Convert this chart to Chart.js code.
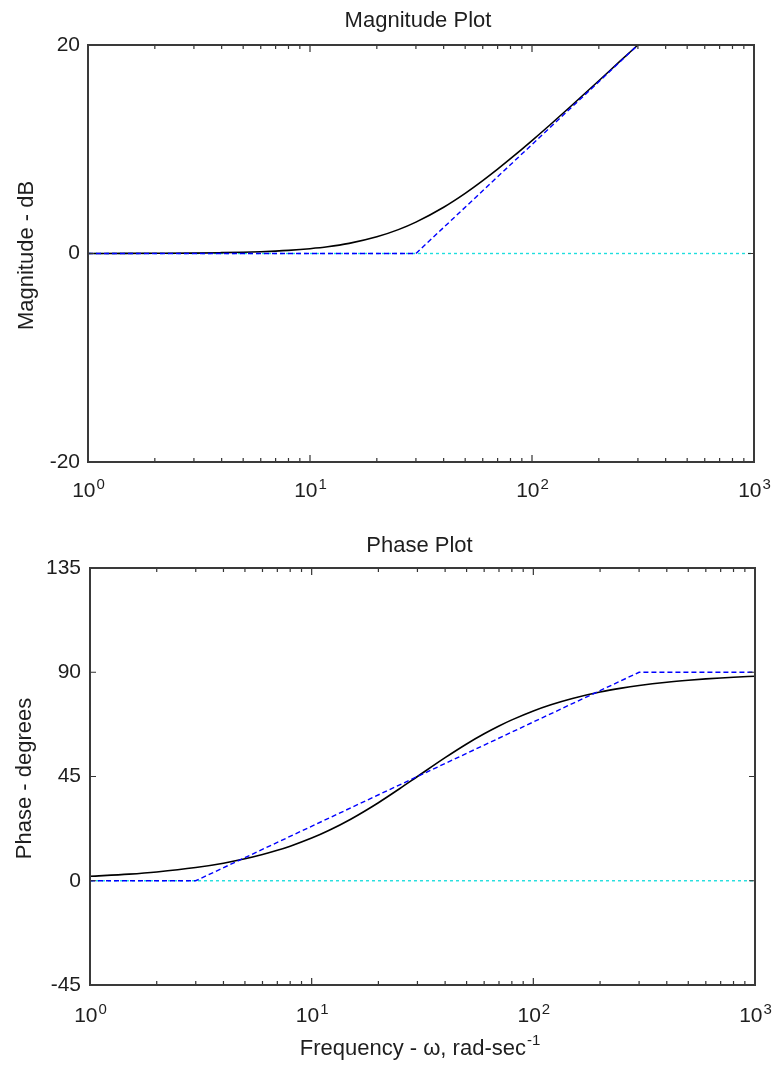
<!DOCTYPE html>
<html><head><meta charset="utf-8">
<script src="https://cdn.jsdelivr.net/npm/chart.js@4.4.1/dist/chart.umd.min.js"></script>
<style>
html,body{margin:0;padding:0;background:#fff;}
#wrap{position:relative;width:772px;height:1068px;background:#fff;}
canvas{position:absolute;left:0;}
</style></head><body>
<div id="wrap">
<canvas id="mag" width="772" height="520" style="top:0px"></canvas>
<canvas id="phase" width="772" height="548" style="top:520px"></canvas>
</div>
<script>
// ---- data ----
const freqMag      = [1, 1.5, 2, 3, 4, 5, 6, 7, 8, 10, 12, 15, 20, 25, 30, 40, 50, 60, 70, 80, 100, 120, 150, 200, 250, 300];
const magnitudeDb  = [0.00, 0.01, 0.02, 0.04, 0.08, 0.12, 0.17, 0.23, 0.30, 0.46, 0.64, 0.97, 1.60, 2.29, 3.01, 4.44, 5.77, 6.99, 8.09, 9.09, 10.83, 12.30, 14.15, 16.57, 18.48, 20.0];
const magAsymFreq  = [1, 30, 300];
const magAsymDb    = [0, 0, 20];

const freqPhase    = [1, 1.5, 2, 3, 4, 5, 6, 7, 8, 10, 12, 15, 20, 25, 30, 40, 50, 60, 70, 80, 100, 120, 150, 200, 250, 300, 400, 500, 600, 700, 800, 1000];
const phaseDeg     = [1.91, 2.86, 3.81, 5.71, 7.59, 9.46, 11.31, 13.13, 14.93, 18.43, 21.80, 26.57, 33.69, 39.81, 45.00, 53.13, 59.04, 63.43, 66.80, 69.44, 73.30, 75.96, 78.69, 81.47, 83.16, 84.29, 85.71, 86.57, 87.14, 87.55, 87.85, 88.28];
const phaseAsymFreq = [1, 3, 300, 1000];
const phaseAsymDeg  = [0, 0, 90, 90];

const zeroFreq = [1, 1000];
const zeroVal  = [0, 0];

const majorTicks = [1, 10, 100, 1000];
const tickBase = '10';
const tickExponents = ['0', '1', '2', '3'];
const minorMultipliers = [2, 3, 4, 5, 6, 7, 8, 9];
const magYTicks = [-20, 0, 20];
const phaseYTicks = [-45, 0, 45, 90, 135];

const magTitle = 'Magnitude Plot';
const magYTitle = 'Magnitude - dB';
const phaseTitle = 'Phase Plot';
const phaseYTitle = 'Phase - degrees';
const xTitleMain = 'Frequency - \u03c9, rad-sec';
const xTitleSup = '-1';

// ---- drawing ----
const FONT = '"Liberation Sans", Arial, Helvetica, sans-serif';
const TEXT = '#1e1e1e';
const pts = (xs, ys) => xs.map((x, i) => ({x, y: ys[i]}));

const bodePlugin = {
  id: 'bode',
  afterDraw(chart, args, o) {
    const {ctx, chartArea: a, scales} = chart;
    const xs = scales.x, ys = scales.y;
    ctx.save();
    // inside tick marks
    ctx.strokeStyle = '#333';
    ctx.lineWidth = 1.2;
    ctx.beginPath();
    majorTicks.forEach((v, d) => {
      const px = xs.getPixelForValue(v);
      ctx.moveTo(px, a.bottom); ctx.lineTo(px, a.bottom - 7);
      ctx.moveTo(px, a.top); ctx.lineTo(px, a.top + 7);
      if (d < majorTicks.length - 1) {
        minorMultipliers.forEach(m => {
          const qx = xs.getPixelForValue(v * m);
          ctx.moveTo(qx, a.bottom); ctx.lineTo(qx, a.bottom - 4);
          ctx.moveTo(qx, a.top); ctx.lineTo(qx, a.top + 4);
        });
      }
    });
    ys.ticks.forEach(t => {
      const py = ys.getPixelForValue(t.value);
      ctx.moveTo(a.left, py); ctx.lineTo(a.left + 6, py);
      ctx.moveTo(a.right, py); ctx.lineTo(a.right - 6, py);
    });
    ctx.stroke();
    // frame
    ctx.strokeStyle = '#3a3a3a';
    ctx.lineWidth = 2;
    ctx.strokeRect(a.left, a.top, a.right - a.left, a.bottom - a.top);
    // x tick labels 10^n
    ctx.fillStyle = TEXT;
    ctx.textAlign = 'left';
    ctx.textBaseline = 'alphabetic';
    majorTicks.forEach((v, i) => {
      const px = xs.getPixelForValue(v);
      ctx.font = '21px ' + FONT;
      const w1 = ctx.measureText(tickBase).width;
      ctx.font = '15px ' + FONT;
      const w2 = ctx.measureText(tickExponents[i]).width;
      const x0 = px - (w1 + w2) / 2;
      ctx.font = '21px ' + FONT;
      ctx.fillText(tickBase, x0, a.bottom + o.labelGap);
      ctx.font = '15px ' + FONT;
      ctx.fillText(tickExponents[i], x0 + w1 + 1, a.bottom + o.labelGap - 8);
    });
    // title
    ctx.font = '22px ' + FONT;
    ctx.textAlign = 'center';
    ctx.fillText(o.title, (a.left + a.right) / 2 - 3, o.titleBaseline);
    // y title
    ctx.save();
    ctx.translate(o.yTitleX, (a.top + a.bottom) / 2 + 2);
    ctx.rotate(-Math.PI / 2);
    ctx.textBaseline = 'middle';
    ctx.fillText(o.yTitle, 0, 0);
    ctx.restore();
    // x title with superscript
    if (o.xTitle) {
      ctx.font = '22px ' + FONT;
      const w1 = ctx.measureText(o.xTitle).width;
      ctx.font = '15px ' + FONT;
      const w2 = ctx.measureText(o.xSup).width;
      const cx = (a.left + a.right) / 2 - 3;
      const x0 = cx - (w1 + w2) / 2;
      ctx.textAlign = 'left';
      ctx.textBaseline = 'alphabetic';
      ctx.font = '22px ' + FONT;
      ctx.fillText(o.xTitle, x0, o.xTitleBaseline);
      ctx.font = '15px ' + FONT;
      ctx.fillText(o.xSup, x0 + w1 + 1, o.xTitleBaseline - 10);
    }
    ctx.restore();
  }
};

function makeChart(id, cfg) {
  return new Chart(document.getElementById(id), {
    type: 'line',
    data: {
      datasets: [
        {data: pts(cfg.asymX, cfg.asymY), borderColor: '#0000ff', borderWidth: 1.4, borderDash: [5, 3], pointRadius: 0, tension: 0, fill: false},
        {data: pts(cfg.curveX, cfg.curveY), borderColor: '#000000', borderWidth: 1.6, pointRadius: 0, cubicInterpolationMode: 'monotone', fill: false},
        {data: pts(zeroFreq, zeroVal), borderColor: '#1fdede', borderWidth: 1.4, borderDash: [3, 3], pointRadius: 0, tension: 0, fill: false}
      ]
    },
    options: {
      responsive: false,
      animation: false,
      devicePixelRatio: 1,
      events: [],
      layout: {padding: cfg.padding},
      scales: {
        x: {
          type: 'logarithmic', min: 1, max: 1000,
          grid: {display: false, drawTicks: false}, border: {display: false},
          ticks: {display: false},
          afterFit: s => { s.height = cfg.xHeight; }
        },
        y: {
          type: 'linear', min: cfg.yTicks[0], max: cfg.yTicks[cfg.yTicks.length - 1],
          grid: {display: false, drawTicks: false}, border: {display: false},
          afterBuildTicks: s => { s.ticks = cfg.yTicks.map(v => ({value: v})); },
          ticks: {color: TEXT, font: {family: FONT, size: 21}, padding: cfg.yPad, callback: v => String(v)},
          afterFit: s => { s.width = cfg.yWidth; }
        }
      },
      plugins: {
        legend: {display: false},
        tooltip: {enabled: false},
        title: {display: false},
        bode: cfg.bode
      }
    },
    plugins: [bodePlugin]
  });
}

makeChart('mag', {
  asymX: magAsymFreq, asymY: magAsymDb, curveX: freqMag, curveY: magnitudeDb,
  yTicks: magYTicks, padding: {top: 45, right: 18, left: 0, bottom: 0},
  xHeight: 58, yWidth: 88, yPad: 8,
  bode: {title: magTitle, titleBaseline: 27, yTitle: magYTitle, yTitleX: 27, labelGap: 35}
});

makeChart('phase', {
  asymX: phaseAsymFreq, asymY: phaseAsymDeg, curveX: freqPhase, curveY: phaseDeg,
  yTicks: phaseYTicks, padding: {top: 48, right: 17, left: 0, bottom: 0},
  xHeight: 83, yWidth: 90, yPad: 9,
  bode: {title: phaseTitle, titleBaseline: 32, yTitle: phaseYTitle, yTitleX: 25, labelGap: 37,
         xTitle: xTitleMain, xSup: xTitleSup, xTitleBaseline: 535}
});
</script>
</body></html>
